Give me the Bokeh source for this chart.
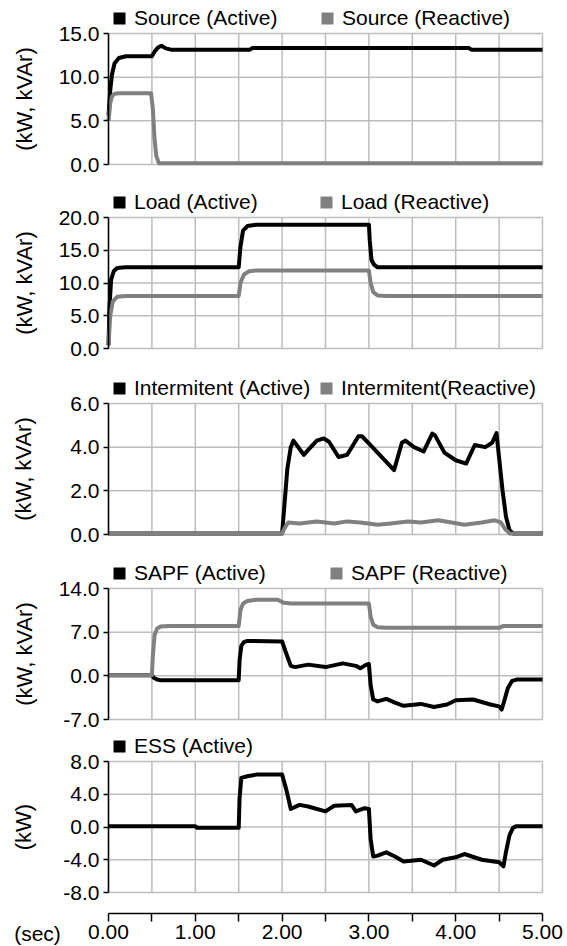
from bokeh.plotting import figure
from bokeh.models import (FixedTicker, NumeralTickFormatter, Legend, LegendItem,
                          Range1d, Label, LinearAxis)
from bokeh.embed import file_html
from bokeh.resources import INLINE

# ---------------- data ----------------
src_p_t = [0, 0.02, 0.04, 0.07, 0.12, 0.2, 0.5, 0.53, 0.57, 0.61, 0.66, 0.72, 1.63, 1.66, 4.15, 4.18, 5.0]
src_p_v = [5.6, 8.5, 10.3, 11.6, 12.2, 12.4, 12.4, 12.9, 13.4, 13.6, 13.3, 13.15, 13.15, 13.35, 13.35, 13.15, 13.15]
src_q_t = [0, 0.02, 0.04, 0.07, 0.12, 0.49, 0.51, 0.53, 0.55, 0.58, 5.0]
src_q_v = [5.0, 7.0, 7.8, 8.1, 8.15, 8.15, 6.5, 3.0, 1.0, 0.15, 0.15]

load_p_t = [0, 0.01, 0.03, 0.06, 0.1, 0.2, 1.5, 1.52, 1.55, 1.6, 1.7, 3.0, 3.01, 3.03, 3.06, 3.1, 5.0]
load_p_v = [0.5, 6.0, 10.5, 11.8, 12.3, 12.4, 12.4, 15.5, 18.0, 18.7, 18.9, 18.9, 16.5, 13.5, 12.8, 12.4, 12.4]
load_q_t = [0, 0.02, 0.05, 0.1, 0.2, 1.5, 1.52, 1.56, 1.62, 1.7, 3.0, 3.02, 3.05, 3.1, 3.2, 5.0]
load_q_v = [0.5, 5.0, 7.2, 7.9, 8.0, 8.0, 10.0, 11.3, 11.8, 11.9, 11.9, 10.0, 8.6, 8.1, 8.0, 8.0]

int_p_t = [0, 2.0, 2.03, 2.06, 2.1, 2.13, 2.25, 2.33, 2.4, 2.48, 2.54, 2.65, 2.75, 2.88, 2.92, 3.04,
           3.23, 3.29, 3.38, 3.42, 3.52, 3.63, 3.73, 3.76, 3.87, 4.0, 4.12, 4.22, 4.34, 4.42, 4.47,
           4.54, 4.58, 4.62, 4.66, 5.0]
int_p_v = [0.05, 0.05, 1.5, 3.0, 4.0, 4.3, 3.65, 4.0, 4.3, 4.4, 4.25, 3.55, 3.65, 4.5, 4.5, 4.0,
           3.2, 2.95, 4.2, 4.3, 4.0, 3.8, 4.62, 4.55, 3.75, 3.4, 3.25, 4.1, 4.0, 4.2, 4.65,
           2.0, 0.8, 0.2, 0.05, 0.05]
int_q_t = [0, 2.0, 2.03, 2.07, 2.2, 2.4, 2.6, 2.75, 2.9, 3.1, 3.25, 3.45, 3.6, 3.8, 3.95, 4.1, 4.3,
           4.45, 4.52, 4.57, 4.62, 5.0]
int_q_v = [0.05, 0.05, 0.3, 0.55, 0.5, 0.6, 0.5, 0.6, 0.55, 0.45, 0.5, 0.6, 0.55, 0.65, 0.55, 0.45,
           0.55, 0.65, 0.55, 0.25, 0.05, 0.05]

sapf_p_t = [0, 0.5, 0.52, 0.56, 0.6, 1.5, 1.51, 1.53, 1.56, 1.6, 2.0, 2.05, 2.1, 2.15, 2.3, 2.5, 2.7,
            2.85, 2.9, 2.97, 3.0, 3.02, 3.05, 3.1, 3.2, 3.3, 3.4, 3.6, 3.75, 3.9, 4.0, 4.2, 4.4,
            4.5, 4.53, 4.56, 4.6, 4.65, 4.7, 5.0]
sapf_p_v = [0.1, 0.1, -0.3, -0.6, -0.7, -0.7, 2.5, 4.8, 5.4, 5.6, 5.5, 3.5, 1.6, 1.4, 1.8, 1.4, 2.0,
            1.6, 1.2, 1.8, 1.9, -1.5, -3.8, -4.1, -3.7, -4.3, -4.8, -4.5, -5.0, -4.6, -3.9, -3.8,
            -4.6, -4.9, -5.4, -4.0, -2.0, -0.8, -0.6, -0.6]
sapf_q_t = [0, 0.5, 0.51, 0.53, 0.56, 0.6, 0.7, 1.5, 1.52, 1.55, 1.6, 1.7, 1.95, 2.02, 2.1, 3.0, 3.02,
            3.05, 3.1, 3.2, 4.5, 4.55, 5.0]
sapf_q_v = [0.1, 0.1, 3.0, 6.5, 7.6, 7.9, 8.0, 8.0, 10.5, 11.6, 12.0, 12.2, 12.2, 11.7, 11.6, 11.6,
            9.5, 8.2, 7.8, 7.7, 7.7, 8.0, 8.0]

ess_p_t = [0, 1.0, 1.02, 1.5, 1.51, 1.53, 1.6, 1.7, 2.0, 2.05, 2.1, 2.2, 2.3, 2.5, 2.6, 2.8, 2.85,
           2.95, 3.0, 3.02, 3.05, 3.1, 3.2, 3.3, 3.4, 3.6, 3.75, 3.85, 4.0, 4.1, 4.3, 4.5, 4.55,
           4.58, 4.62, 4.66, 4.7, 5.0]
ess_p_v = [0.1, 0.1, -0.1, -0.1, 3.5, 6.0, 6.2, 6.4, 6.4, 4.5, 2.2, 2.7, 2.5, 1.9, 2.6, 2.7, 1.9,
           2.3, 2.2, -1.5, -3.6, -3.5, -3.1, -3.6, -4.2, -4.0, -4.7, -4.0, -3.7, -3.3, -4.0, -4.3,
           -4.8, -3.0, -1.0, -0.1, 0.1, 0.1]

x_major = [0, 1, 2, 3, 4, 5]
x_minor = [0.5, 1.5, 2.5, 3.5, 4.5]
x_grid = [0, 0.5, 1, 1.5, 2, 2.5, 3, 3.5, 4, 4.5, 5]

# ---------------- layout / style ----------------
FONT = "Liberation Sans"
GRID = "#bdbdbd"
GREY = "#808080"
W, H = 567, 946
X0, X1 = 108, 542            # pixel columns of t = 0 and t = 5
SX = 5.0 / (X1 - X0)         # seconds per pixel

p = figure(width=W, height=H, x_range=Range1d(-X0 * SX, 5 + (W - X1) * SX),
           y_range=Range1d(0, H), output_backend="svg", toolbar_location=None,
           y_axis_location=None, min_border=0, min_border_left=0, min_border_right=0,
           min_border_top=0, min_border_bottom=0)
p.title.visible = False
p.outline_line_color = None
p.grid.visible = False
p.background_fill_color = "white"
p.border_fill_color = "white"


def panel(name, yr, yticks, ylabel, series, legend_x, top, standoff):
    ymin, ymax = yr
    bottom = top + 131
    s = (ymax - ymin) / (bottom - top)
    p.extra_y_ranges[name] = Range1d(ymin - (H - bottom) * s, ymax + top * s)

    # grid (incl. top / right border) limited to the panel
    p.segment(x0=x_grid, y0=[ymin] * len(x_grid), x1=x_grid, y1=[ymax] * len(x_grid),
              y_range_name=name, line_color=GRID, line_width=1.5)
    p.segment(x0=[0] * len(yticks), y0=yticks, x1=[5] * len(yticks), y1=yticks,
              y_range_name=name, line_color=GRID, line_width=1.5)

    ax = LinearAxis(y_range_name=name, fixed_location=0, bounds=(ymin, ymax))
    ax.ticker = FixedTicker(ticks=yticks)
    ax.formatter = NumeralTickFormatter(format="0.0")
    ax.major_label_text_font = FONT
    ax.major_label_text_font_size = "21px"
    ax.major_label_text_color = "black"
    ax.major_label_standoff = 4
    ax.axis_line_color = "black"
    ax.axis_line_width = 1.5
    ax.major_tick_out = 5
    ax.major_tick_in = 0
    ax.major_tick_line_width = 1.5
    ax.minor_tick_out = 0
    ax.minor_tick_in = 0
    ax.axis_label = ylabel
    ax.axis_label_text_font = FONT
    ax.axis_label_text_font_size = "22px"
    ax.axis_label_text_font_style = "normal"
    ax.axis_label_text_color = "black"
    ax.axis_label_standoff = standoff
    p.add_layout(ax, "left")

    for t, v, color, label in series:
        p.line(x=t, y=v, y_range_name=name, line_color=color, line_width=4, line_join="round")

    center = top - 15.5
    for (t, v, color, label), lx in zip(series, legend_x):
        swatch = p.scatter(x=t, y=v, y_range_name=name, marker="square", size=0,
                           fill_color=color, line_color=None)
        leg = Legend(items=[LegendItem(label=label, renderers=[swatch])],
                     location=(lx - 9, H - (center + 15)), orientation="horizontal",
                     padding=0, margin=0, spacing=0, glyph_width=30, glyph_height=30,
                     label_standoff=-2, label_text_font=FONT, label_text_font_size="21px",
                     label_text_color="black", border_line_color=None,
                     background_fill_alpha=0)
        p.add_layout(leg)


panel("src", (0, 15), [0, 5, 10, 15], "(kW, kVAr)",
      [(src_p_t, src_p_v, "black", "Source (Active)"),
       (src_q_t, src_q_v, GREY, "Source (Reactive)")],
      [113, 321], 33, 19)
panel("load", (0, 20), [0, 5, 10, 15, 20], "(kW, kVAr)",
      [(load_p_t, load_p_v, "black", "Load (Active)"),
       (load_q_t, load_q_v, GREY, "Load (Reactive)")],
      [113, 320], 217, 19)
panel("int", (0, 6), [0, 2, 4, 6], "(kW, kVAr)",
      [(int_p_t, int_p_v, "black", "Intermitent (Active)"),
       (int_q_t, int_q_v, GREY, "Intermitent(Reactive)")],
      [113, 320], 403, 31)
panel("sapf", (-7, 14), [-7, 0, 7, 14], "(kW, kVAr)",
      [(sapf_p_t, sapf_p_v, "black", "SAPF (Active)"),
       (sapf_q_t, sapf_q_v, GREY, "SAPF (Reactive)")],
      [113, 330], 588, 19)
panel("ess", (-8, 8), [-8, -4, 0, 4, 8], "(kW)",
      [(ess_p_t, ess_p_v, "black", "ESS (Active)")],
      [113], 761, 24)

# bottom time axis, fixed 21 px below the last panel
xa = p.xaxis[0]
xa.fixed_location = H - 913
xa.bounds = (0, 5)
xa.ticker = FixedTicker(ticks=x_major, minor_ticks=x_minor)
xa.formatter = NumeralTickFormatter(format="0.00")
xa.major_label_text_font = FONT
xa.major_label_text_font_size = "21px"
xa.major_label_text_color = "black"
xa.major_label_standoff = 3
xa.axis_line_color = "black"
xa.axis_line_width = 1.5
xa.major_tick_out = 8
xa.major_tick_in = 0
xa.minor_tick_out = 8
xa.minor_tick_in = 0
xa.major_tick_line_width = 1.5
xa.minor_tick_line_width = 1.5
xa.minor_tick_line_color = "black"
p.add_layout(Label(x=(37 - X0) * SX, y=H - 933, text="(sec)", text_align="center",
                   text_baseline="middle", text_font=FONT, text_font_size="21px",
                   text_color="black"))

open("out.html", "w").write(file_html(p, INLINE))
